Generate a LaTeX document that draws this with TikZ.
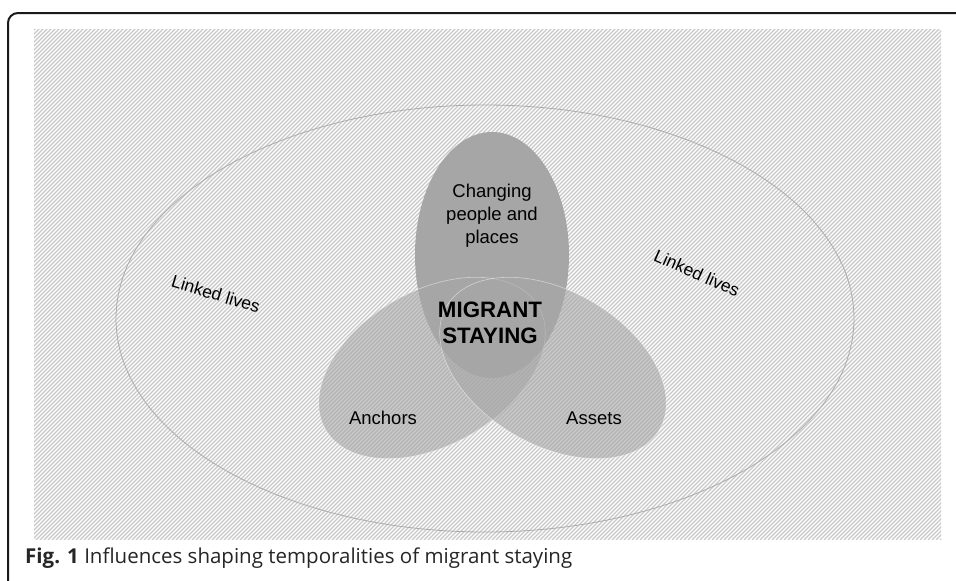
\documentclass[tikz,border=0pt]{standalone}
\usepackage{fontspec}
\setmainfont{Liberation Sans}
\newfontfamily\capfont{Open Sans}
\definecolor{venn}{RGB}{166,166,166}
\definecolor{hatch}{RGB}{200,200,200}
\definecolor{frame}{RGB}{26,26,26}
\begin{document}
\begin{tikzpicture}[x=1pt,y=-1pt,
  lbl/.style={text=black, align=center, inner sep=0pt, font=\fontsize{18.5}{23}\selectfont},
  lower/.style={fill=venn, fill opacity=0.6, draw=white, draw opacity=0.5, line width=0.6pt},
  outerring/.style={draw=gray!65, line width=0.8pt}]
\useasboundingbox (0,0) rectangle (956,581);
\fill[white] (0,0) rectangle (956,581);
% frame
\draw[frame, line width=2pt, rounded corners=10pt] (8,590) -- (8,13) -- (970,13);
% hatched panel
\begin{scope}
  \clip (34,29) rectangle (941,539);
  \foreach \k in {-476,-472,...,944} {
    \draw[hatch, line width=1.3pt] (\k,540) -- (\k+512,28);
  }
\end{scope}
% outer ellipse
\draw[outerring] (485,318.5) ellipse [x radius=369, y radius=213.5];
% top ellipse
\fill[venn] (492,255) ellipse [x radius=77, y radius=123];
% lower ellipses
\draw[lower, rotate around={30:(432,368)}] (432,368) ellipse [x radius=123, y radius=77];
\draw[lower, rotate around={-30:(553,368)}] (553,368) ellipse [x radius=123, y radius=77];
% labels
\node[lbl] (cpp) at (492,216) {Changing\\people and\\places};
\node[lbl, font=\bfseries\fontsize{22.3}{26}\selectfont] (ms) at (490,323) {MIGRANT\\STAYING};
\node[lbl] (anc) at (383,418) {Anchors};
\node[lbl] (ass) at (594,418) {Assets};
\node[lbl, font=\fontsize{17.5}{21}\selectfont, rotate=-17] (ll1) at (216,294) {Linked lives};
\node[lbl, font=\fontsize{17.5}{21}\selectfont, rotate=-24] (ll2) at (697,273) {Linked lives};
% caption
\node[anchor=west, inner sep=0pt, text=black!85, font=\capfont\fontsize{20.5}{24}\selectfont] (cap) at (25,558) {\textbf{Fig. 1} Influences shaping temporalities of migrant staying};
\end{tikzpicture}
\end{document}
